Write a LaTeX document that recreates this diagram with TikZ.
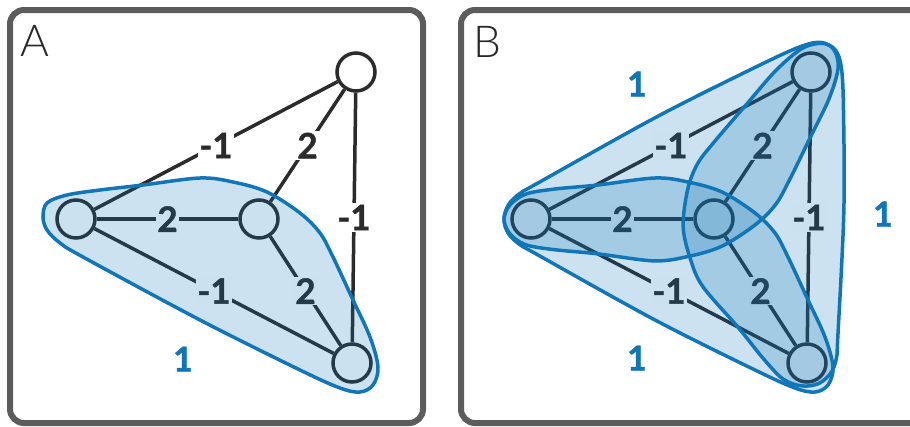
\documentclass[tikz,border=0pt]{standalone}
\usepackage{fontspec}
\setmainfont{Lato}
\newfontfamily\labfont[FakeBold=1.2]{Lato Bold}
\newfontfamily\thinfont{Lato Light}
\definecolor{panelgray}{RGB}{92,92,92}
\definecolor{inkc}{RGB}{43,43,43}
\definecolor{blobblue}{RGB}{16,118,184}
\definecolor{lettergray}{RGB}{40,40,40}
\newcommand{\blobshape}{plot[smooth cycle, tension=0.55] coordinates {(-216,-2) (-212,-16) (-192,-24) (-159,-29) (-116,-34) (-59,-41) (-26,-37) (8,-27) (41,-6) (61,14) (74,38) (94,81) (111,118) (119,148) (114,166) (101,173) (81,169) (41,151) (-59,101) (-176,38) (-199,24) (-212,11)}}
\newcommand{\blobshapeB}{plot[smooth cycle, tension=0.55] coordinates {(-210,0) (-204,-14) (-188,-25) (-159,-30) (-116,-34) (-59,-41) (-26,-37) (8,-27) (41,-6) (61,14) (74,38) (94,81) (111,118) (119,148) (114,166) (101,173) (81,169) (41,151) (-59,101) (-176,36) (-195,25) (-206,14)}}
\begin{document}
\begin{tikzpicture}[x=1pt,y=-1pt,
  panel/.style={draw=panelgray, line width=6, rounded corners=14},
  vtx/.style={circle, draw=inkc, fill=white, line width=3.5, minimum size=38, inner sep=0},
  link/.style={draw=inkc, line width=3.5},
  wlab/.style={fill=white, inner sep=1.5, text=inkc, font=\fontsize{35}{35}\labfont},
  blobfill/.style={fill=blobblue, fill opacity=0.21},
  blobline/.style={draw=blobblue, line width=3.5},
  hlab/.style={text=blobblue, font=\fontsize{34}{34}\labfont},
  plab/.style={text=lettergray, font=\fontsize{44}{44}\thinfont}]
\useasboundingbox (0,0) rectangle (910,426);
\clip (0,0) rectangle (910,426);
% panels
\draw[panel] (10,10) rectangle (423,423);
\draw[panel] (461,10) rectangle (940,423);
\node[plab] (pA) at (35,41) {A};
\node[plab] (pB) at (487,42) {B};
% ---------- panel A ----------
\node[vtx] (aL) at (76,219) {};
\node[vtx] (aM) at (259,219) {};
\node[vtx] (aT) at (356,72) {};
\node[vtx] (aB) at (352,363) {};
\draw[link] (aL) -- node[wlab] {-1} (aT);
\draw[link] (aM) -- node[wlab] {2} (aT);
\draw[link] (aT) -- node[wlab] {-1} (aB);
\draw[link] (aL) -- node[wlab] {2} (aM);
\draw[link] (aL) -- node[wlab] {-1} (aB);
\draw[link] (aM) -- node[wlab] {2} (aB);
\begin{scope}[shift={(259,219)}]
  \path[blobfill] \blobshape;
  \path[blobline] \blobshape;
\end{scope}
\node[hlab] (wA) at (183,359) {1};
% ---------- panel B ----------
\node[vtx] (bL) at (531,219) {};
\node[vtx] (bC) at (714,219) {};
\node[vtx] (bT) at (811,72) {};
\node[vtx] (bB) at (807,363) {};
\draw[link] (bL) -- node[wlab] {-1} (bT);
\draw[link] (bC) -- node[wlab] {2} (bT);
\draw[link] (bT) -- node[wlab] {-1} (bB);
\draw[link] (bL) -- node[wlab] {2} (bC);
\draw[link] (bL) -- node[wlab] {-1} (bB);
\draw[link] (bC) -- node[wlab] {2} (bB);
\begin{scope}[shift={(714,219)}]
  \path[blobfill] \blobshapeB;
\end{scope}
\begin{scope}[cm={1,0,-0.0347,-1.0208,(714,219)}]
  \path[blobfill] \blobshapeB;
\end{scope}
\begin{scope}[cm={-0.5,0.7826,-0.9931,-0.5208,(714,219)}]
  \path[blobfill] \blobshapeB;
\end{scope}
\begin{scope}[shift={(714,219)}]
  \path[blobline] \blobshapeB;
\end{scope}
\begin{scope}[cm={1,0,-0.0347,-1.0208,(714,219)}]
  \path[blobline] \blobshapeB;
\end{scope}
\begin{scope}[cm={-0.5,0.7826,-0.9931,-0.5208,(714,219)}]
  \path[blobline] \blobshapeB;
\end{scope}
\node[hlab] (wB1) at (637,84) {1};
\node[hlab] (wB2) at (883,214) {1};
\node[hlab] (wB3) at (637,358) {1};
\end{tikzpicture}
\end{document}
